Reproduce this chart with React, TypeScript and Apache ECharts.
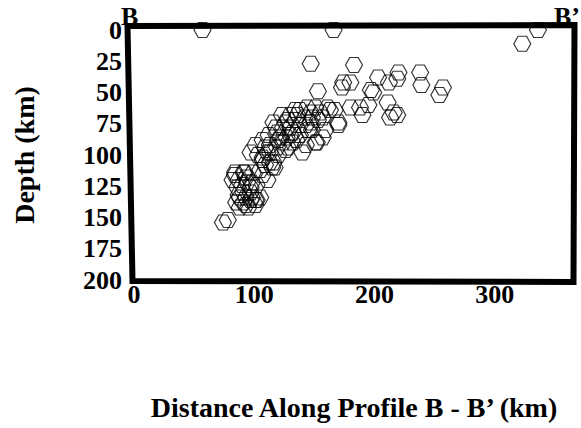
import React, { useEffect, useRef } from "react";
import * as echarts from "echarts";

// Earthquake hypocentres projected on profile B - B'
const distanceKm = [
  57, 166, 336, 323, 147, 183, 153, 174, 180, 173,
  197, 199, 203, 212, 220, 219, 238, 239, 257, 254,
  211, 216, 213, 219, 188, 190, 195, 180, 170, 163,
  157, 147, 138, 144, 151, 161, 167, 170, 123, 130,
  116, 136, 147, 138, 130, 124, 119, 132, 145, 157,
  152, 151, 140, 127, 122, 124, 119, 132, 101, 97,
  111, 116, 115, 107, 113, 107, 92, 105, 84, 91,
  99, 111, 86, 88, 91, 95, 102, 105, 97, 94,
  91, 88, 101, 113, 117, 101, 84, 74, 78, 126,
  134, 142, 120, 128, 109, 103, 98, 87, 93, 85,
  107, 112, 118, 128, 134, 143, 148, 153, 159, 93,
  97, 87, 98, 93, 97, 90, 102, 107, 82, 109,
  120, 126, 135, 138, 143, 130, 113, 148, 155,
];
const depthKm = [
  0, 0, 0, 11, 27, 28, 49, 42, 42, 46,
  48, 50, 38, 42, 34, 39, 34, 44, 46, 52,
  58, 66, 70, 68, 62, 68, 60, 62, 76, 64,
  70, 66, 64, 62, 62, 62, 64, 74, 68, 68,
  74, 68, 74, 76, 78, 78, 82, 82, 80, 86,
  90, 90, 98, 86, 86, 90, 94, 90, 92, 98,
  98, 106, 110, 102, 98, 104, 114, 112, 116, 114,
  114, 120, 126, 134, 138, 142, 136, 134, 130, 122,
  130, 142, 140, 106, 110, 136, 114, 154, 152, 74,
  72, 70, 88, 94, 94, 100, 122, 120, 134, 138,
  88, 84, 78, 72, 64, 76, 80, 72, 80, 118,
  126, 132, 134, 140, 136, 124, 124, 116, 120, 108,
  100, 96, 88, 84, 92, 84, 92, 70, 66,
];

const xTickStep = 100;
const yTickStep = 25;
const xRange = [0, 366];
const yRange = [0, 200];
const xTitle = "Distance Along Profile B - B\u2019 (km)";
const yTitle = "Depth (km)";
const startLabel = "B";
const endLabel = "B\u2019";

const HEX = "path://M0,50 L25,7 L75,7 L100,50 L75,93 L25,93 Z";

export default function App() {
  const ref = useRef<HTMLDivElement>(null);
  useEffect(() => {
    const chart = echarts.init(ref.current!, null, { renderer: "svg" });
    const fam = '"Liberation Serif", "Times New Roman", serif';
    const data = distanceKm.map((d, i) => [d, depthKm[i]]);
    chart.setOption({
      animation: false,
      backgroundColor: "#ffffff",
      grid: { left: 134, top: 30, width: 440, height: 250, show: false },
      xAxis: {
        type: "value",
        min: xRange[0],
        max: xRange[1],
        interval: xTickStep,
        axisLine: { show: false },
        axisTick: { show: false },
        splitLine: { show: false },
        axisLabel: {
          margin: 1,
          color: "#000",
          fontFamily: fam,
          fontWeight: "bold",
          fontSize: 26,
          showMaxLabel: false,
          formatter: (v: number) => (v % xTickStep === 0 ? String(v) : ""),
        },
        name: xTitle,
        nameLocation: "middle",
        nameGap: 113,
        nameTextStyle: { color: "#000", fontFamily: fam, fontWeight: "bold", fontSize: 28 },
      },
      yAxis: {
        type: "value",
        inverse: true,
        min: yRange[0],
        max: yRange[1],
        interval: yTickStep,
        axisLine: { show: false },
        axisTick: { show: false },
        splitLine: { show: false },
        axisLabel: {
          margin: 12,
          color: "#000",
          fontFamily: fam,
          fontWeight: "bold",
          fontSize: 26,
        },
        name: yTitle,
        nameLocation: "middle",
        nameRotate: 90,
        nameGap: 96,
        nameTextStyle: { color: "#000", fontFamily: fam, fontWeight: "bold", fontSize: 28 },
      },
      series: [
        {
          type: "scatter",
          data,
          symbol: HEX,
          symbolSize: [17, 15],
          clip: false,
          itemStyle: { color: "rgba(0,0,0,0)", borderColor: "#000", borderWidth: 1.1 },
          emphasis: { disabled: true },
          z: 2,
        },
      ],
      graphic: [
        {
          type: "polygon",
          z: 100,
          shape: {
            points: [
              [127.5, 26],
              [574.5, 25],
              [573.5, 282],
              [132.5, 281],
            ],
          },
          style: { fill: "none", stroke: "#000", lineWidth: 6, lineJoin: "miter" },
        },
        {
          type: "text",
          z: 101,
          style: {
            x: 121,
            y: 16,
            text: startLabel,
            font: `bold 26px ${fam}`,
            fill: "#000",
            textVerticalAlign: "middle",
          },
        },
        {
          type: "text",
          z: 101,
          style: {
            x: 580,
            y: 16,
            text: endLabel,
            font: `bold 26px ${fam}`,
            fill: "#000",
            textAlign: "right",
            textVerticalAlign: "middle",
          },
        },
      ],
    });
    return () => chart.dispose();
  }, []);
  return (
    <div
      ref={ref}
      style={{ position: "fixed", left: 0, top: 0, width: 581, height: 428 }}
    />
  );
}
